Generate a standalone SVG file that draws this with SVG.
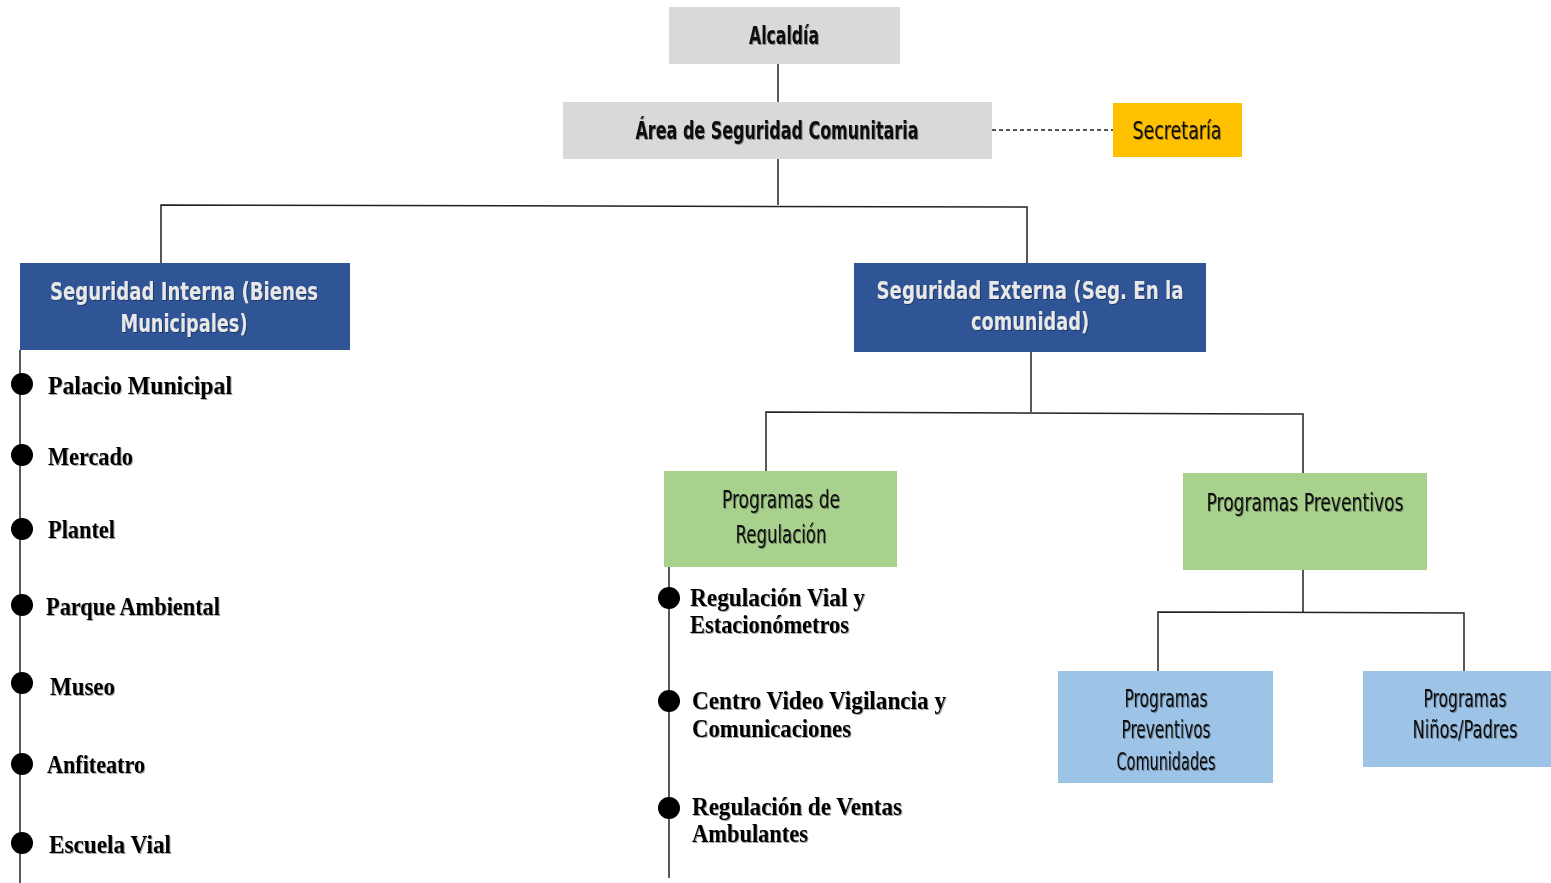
<svg xmlns="http://www.w3.org/2000/svg" width="1551" height="883" viewBox="0 0 1551 883">
<defs>
<filter id="sh" x="-5%" y="-20%" width="110%" height="140%">
<feDropShadow dx="1" dy="1" stdDeviation="0.6" flood-color="#000" flood-opacity="0.35"/>
</filter>
<style>
.box text{font-family:"DejaVu Sans Condensed","DejaVu Sans",sans-serif;font-stretch:condensed;text-anchor:middle;filter:url(#sh)}
.dk{fill:#111}
.lt{fill:#e8e8e8;font-weight:bold}
.b{font-weight:bold}
.item{font-family:"Liberation Serif","Times New Roman",serif;font-weight:bold;font-size:26px;fill:#000;filter:url(#sh)}
.ln{stroke:#222;stroke-width:1.5;fill:none}
.dot{fill:#000}
</style>
</defs>
<rect width="1551" height="883" fill="#fff"/>
<g id="connectors">
<line class="ln" x1="778" y1="64" x2="778" y2="102"/>
<line class="ln" x1="992" y1="130" x2="1113" y2="130" stroke-dasharray="4,3"/>
<polyline class="ln" points="778,159 778,205"/>
<polyline class="ln" points="161,263 161,205 1027,207 1027,263"/>
<polyline class="ln" points="1031,352 1031,412"/>
<polyline class="ln" points="766,471 766,412 1303,414 1303,473"/>
<polyline class="ln" points="1303,570 1303,612"/>
<polyline class="ln" points="1158,671 1158,612 1464,613 1464,671"/>
<line class="ln" x1="20" y1="350" x2="20" y2="883"/>
<line class="ln" x1="669" y1="567" x2="669" y2="878"/>
</g>
<g id="alcaldia" class="box">
<rect x="669" y="7" width="231" height="57" fill="#d9d9d9"/>
<text class="dk b" x="784" y="44" font-size="24" textLength="70" lengthAdjust="spacingAndGlyphs">Alcaldía</text>
</g>
<g id="area" class="box">
<rect x="563" y="102" width="429" height="57" fill="#d9d9d9"/>
<text class="dk b" x="777" y="139" font-size="24" textLength="283" lengthAdjust="spacingAndGlyphs">Área de Seguridad Comunitaria</text>
</g>
<g id="secretaria" class="box">
<rect x="1113" y="103" width="129" height="54" fill="#ffc000"/>
<text class="dk" x="1177" y="139" font-size="24" textLength="89" lengthAdjust="spacingAndGlyphs">Secretaría</text>
</g>
<g id="seg-interna" class="box">
<rect x="20" y="263" width="330" height="87" fill="#2f5597"/>
<text class="lt" x="184" y="300" font-size="24" textLength="268" lengthAdjust="spacingAndGlyphs">Seguridad Interna (Bienes</text>
<text class="lt" x="184" y="332" font-size="24" textLength="127" lengthAdjust="spacingAndGlyphs">Municipales)</text>
</g>
<g id="seg-externa" class="box">
<rect x="854" y="263" width="352" height="89" fill="#2f5597"/>
<text class="lt" x="1030" y="299" font-size="24" textLength="307" lengthAdjust="spacingAndGlyphs">Seguridad Externa (Seg. En la</text>
<text class="lt" x="1030" y="330" font-size="24" textLength="118" lengthAdjust="spacingAndGlyphs">comunidad)</text>
</g>
<g id="prog-regulacion" class="box">
<rect x="664" y="471" width="233" height="96" fill="#a9d18e"/>
<text class="dk" x="781" y="508" font-size="25" textLength="118" lengthAdjust="spacingAndGlyphs">Programas de</text>
<text class="dk" x="781" y="543" font-size="25" textLength="91" lengthAdjust="spacingAndGlyphs">Regulación</text>
</g>
<g id="prog-preventivos" class="box">
<rect x="1183" y="473" width="244" height="97" fill="#a9d18e"/>
<text class="dk" x="1305" y="511" font-size="25" textLength="197" lengthAdjust="spacingAndGlyphs">Programas Preventivos</text>
</g>
<g id="prog-comunidades" class="box">
<rect x="1058" y="671" width="215" height="112" fill="#9dc3e6"/>
<text class="dk" x="1166" y="707" font-size="24" textLength="83" lengthAdjust="spacingAndGlyphs">Programas</text>
<text class="dk" x="1166" y="738" font-size="24" textLength="89" lengthAdjust="spacingAndGlyphs">Preventivos</text>
<text class="dk" x="1166" y="770" font-size="24" textLength="99" lengthAdjust="spacingAndGlyphs">Comunidades</text>
</g>
<g id="prog-ninos" class="box">
<rect x="1363" y="671" width="188" height="96" fill="#9dc3e6"/>
<text class="dk" x="1465" y="707" font-size="24" textLength="83" lengthAdjust="spacingAndGlyphs">Programas</text>
<text class="dk" x="1465" y="738" font-size="24" textLength="105" lengthAdjust="spacingAndGlyphs">Niños/Padres</text>
</g>
<g id="interna-items">
<circle class="dot" cx="22" cy="384" r="11"/>
<text class="item" x="48" y="394" textLength="184" lengthAdjust="spacingAndGlyphs">Palacio Municipal</text>
<circle class="dot" cx="22" cy="455" r="11"/>
<text class="item" x="48" y="465" textLength="85" lengthAdjust="spacingAndGlyphs">Mercado</text>
<circle class="dot" cx="22" cy="529" r="11"/>
<text class="item" x="48" y="538" textLength="67" lengthAdjust="spacingAndGlyphs">Plantel</text>
<circle class="dot" cx="22" cy="605" r="11"/>
<text class="item" x="46" y="615" textLength="174" lengthAdjust="spacingAndGlyphs">Parque Ambiental</text>
<circle class="dot" cx="22" cy="683" r="11"/>
<text class="item" x="50" y="695" textLength="65" lengthAdjust="spacingAndGlyphs">Museo</text>
<circle class="dot" cx="22" cy="764" r="11"/>
<text class="item" x="47" y="773" textLength="98" lengthAdjust="spacingAndGlyphs">Anfiteatro</text>
<circle class="dot" cx="22" cy="843" r="11"/>
<text class="item" x="49" y="853" textLength="122" lengthAdjust="spacingAndGlyphs">Escuela Vial</text>
</g>
<g id="regulacion-items">
<circle class="dot" cx="669" cy="598" r="11"/>
<text class="item" x="690" y="606" textLength="175" lengthAdjust="spacingAndGlyphs">Regulación Vial y</text>
<text class="item" x="690" y="633" textLength="159" lengthAdjust="spacingAndGlyphs">Estacionómetros</text>
<circle class="dot" cx="669" cy="701" r="11"/>
<text class="item" x="692" y="709" textLength="254" lengthAdjust="spacingAndGlyphs">Centro Video Vigilancia y</text>
<text class="item" x="692" y="737" textLength="159" lengthAdjust="spacingAndGlyphs">Comunicaciones</text>
<circle class="dot" cx="669" cy="808" r="11"/>
<text class="item" x="692" y="815" textLength="210" lengthAdjust="spacingAndGlyphs">Regulación de Ventas</text>
<text class="item" x="692" y="842" textLength="116" lengthAdjust="spacingAndGlyphs">Ambulantes</text>
</g>
</svg>
